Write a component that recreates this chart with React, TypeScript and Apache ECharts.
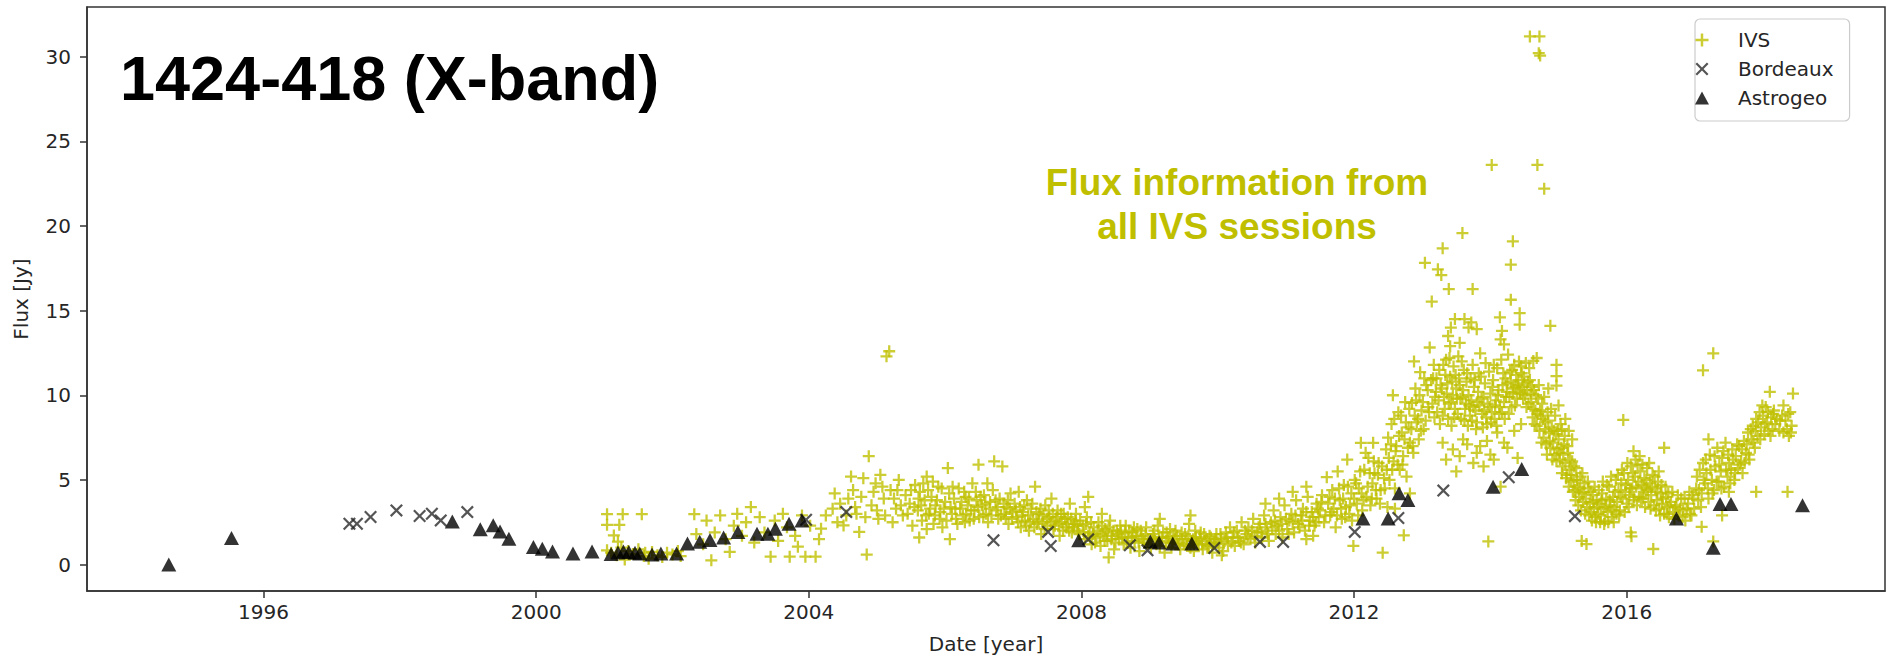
import { useEffect, useRef } from "react";
import * as echarts from "echarts";

// Axis ticks
const xTicks = [1996, 2000, 2004, 2008, 2012, 2016];
const yTicks = [0, 5, 10, 15, 20, 25, 30];

// Astrogeo measurements [year, flux Jy]
const astrogeo: number[][] = [
  [1994.61, 0.0], [1995.53, 1.57], [1998.77, 2.55], [1999.18, 2.08], [1999.37, 2.32], [1999.47, 1.96],
  [1999.6, 1.53], [1999.96, 1.04], [2000.09, 0.94], [2000.24, 0.78], [2000.54, 0.65], [2000.82, 0.78],
  [2001.1, 0.62], [2001.2, 0.72], [2001.28, 0.78], [2001.36, 0.75], [2001.45, 0.7], [2001.52, 0.65],
  [2001.7, 0.6], [2001.83, 0.65], [2002.06, 0.65], [2002.22, 1.24], [2002.4, 1.35], [2002.55, 1.45],
  [2002.75, 1.6], [2002.96, 1.93], [2003.24, 1.82], [2003.4, 1.82], [2003.51, 2.12], [2003.71, 2.41],
  [2003.9, 2.6], [2007.96, 1.43], [2009.01, 1.37], [2009.14, 1.3], [2009.34, 1.25], [2009.62, 1.25],
  [2012.13, 2.72], [2012.5, 2.72], [2012.66, 4.21], [2012.79, 3.81], [2014.04, 4.59], [2014.46, 5.65],
  [2016.73, 2.72], [2017.27, 1.0], [2017.37, 3.58], [2017.53, 3.58], [2018.58, 3.5],
];

// Bordeaux measurements [year, flux Jy]
const bordeaux: number[][] = [
  [1997.26, 2.41], [1997.37, 2.41], [1997.57, 2.81], [1997.95, 3.2], [1998.29, 2.87], [1998.47, 3.0],
  [1998.6, 2.61], [1998.99, 3.1], [2003.96, 2.65], [2004.55, 3.1], [2006.71, 1.43], [2007.51, 1.93],
  [2007.55, 1.1], [2008.1, 1.49], [2008.71, 1.14], [2008.97, 0.84], [2009.95, 0.98], [2010.62, 1.34],
  [2010.96, 1.34], [2012.01, 1.93], [2012.65, 2.75], [2013.31, 4.37], [2014.27, 5.16], [2015.24, 2.86],
];

// IVS session fluxes, 2001 - mid 2005
const ivsEarly: number[][] = [
  [2001.04, 2.98], [2001.27, 2.98], [2001.55, 2.98], [2001.04, 2.35], [2001.22, 2.35], [2001.14, 1.72],
  [2001.2, 1.35], [2001.04, 0.84], [2001.1, 0.7], [2001.18, 0.55], [2001.3, 0.3], [2001.35, 0.8],
  [2001.42, 0.62], [2001.5, 0.9], [2001.58, 0.5], [2001.65, 0.35], [2001.7, 0.75], [2001.78, 0.55],
  [2001.85, 0.45], [2001.92, 0.7], [2002.0, 0.6], [2002.08, 0.8], [2002.12, 0.5], [2001.25, 1.0],
  [2001.6, 0.7], [2002.32, 2.98], [2002.35, 1.8], [2002.45, 1.2], [2002.5, 2.6], [2002.57, 0.25],
  [2002.62, 1.9], [2002.7, 2.9], [2002.78, 1.5], [2002.84, 0.75], [2002.9, 2.3], [2002.95, 3.0],
  [2003.02, 1.7], [2003.08, 2.5], [2003.15, 3.4], [2003.2, 1.3], [2003.28, 2.8], [2003.35, 1.9],
  [2003.44, 0.47], [2003.5, 2.6], [2003.55, 1.4], [2003.62, 3.0], [2003.68, 2.2], [2003.72, 0.47],
  [2003.8, 1.7], [2003.84, 1.06], [2003.9, 2.9], [2003.95, 0.47], [2004.02, 2.3], [2004.1, 0.47],
  [2004.15, 1.5], [2004.18, 2.12], [2004.25, 2.9], [2004.35, 3.3], [2004.42, 2.5], [2004.51, 2.31],
  [2004.58, 3.9], [2004.65, 4.4], [2004.7, 3.0], [2004.74, 1.93], [2004.8, 5.1], [2004.85, 0.59],
  [2004.88, 6.4], [2004.92, 3.5], [2004.98, 4.8], [2005.02, 2.7], [2005.05, 5.3], [2005.1, 3.9],
  [2005.14, 12.3], [2005.18, 12.6], [2005.2, 4.4], [2005.23, 2.5], [2005.28, 3.3], [2005.32, 5.0],
  [2005.38, 2.9], [2005.42, 4.1], [2005.48, 3.6], [2005.52, 2.3], [2005.56, 4.7],
  [2004.38, 4.2], [2004.46, 3.6], [2004.55, 2.9], [2004.62, 5.2], [2004.68, 3.4], [2004.77, 4.0],
  [2004.83, 2.8], [2004.95, 4.3], [2005.0, 3.2], [2005.08, 4.6], [2005.12, 2.9], [2005.25, 3.9],
  [2005.3, 4.4], [2005.35, 3.5], [2005.45, 3.0], [2005.5, 4.4], [2005.55, 3.4],
];

// IVS session fluxes, mid 2005 - 2008 plateau
const ivsPlateau: number[][] = [
  [2005.6, 3.2], [2005.63, 4.3], [2005.66, 2.6], [2005.7, 3.8], [2005.73, 5.2], [2005.76, 3.0],
  [2005.8, 4.0], [2005.83, 2.4], [2005.86, 3.5], [2005.9, 4.6], [2005.93, 3.1], [2005.96, 2.2],
  [2006.0, 3.7], [2006.04, 5.7], [2006.06, 4.2], [2005.62, 1.6], [2005.73, 2.1], [2006.07, 1.5],
  [2006.29, 2.5], [2006.1, 3.0], [2006.13, 3.9], [2006.16, 2.7], [2006.2, 4.5], [2006.22, 3.3],
  [2006.26, 2.9], [2006.3, 4.0], [2006.33, 3.5], [2006.36, 2.6], [2006.4, 4.8], [2006.43, 3.2],
  [2006.46, 3.8], [2006.49, 5.9], [2006.5, 2.8], [2006.54, 3.5], [2006.57, 4.1], [2006.6, 3.0],
  [2006.63, 2.5], [2006.66, 3.7], [2006.7, 4.4], [2006.72, 6.1], [2006.75, 3.2], [2006.78, 2.7],
  [2006.8, 3.9], [2006.84, 5.8], [2006.87, 3.0], [2006.9, 3.4], [2006.93, 2.4], [2006.96, 4.2],
  [2006.99, 3.1], [2007.02, 3.6], [2007.05, 2.8], [2007.08, 4.3], [2007.11, 2.2], [2007.14, 3.1],
  [2007.17, 2.6], [2007.2, 3.8], [2007.23, 2.0], [2007.26, 3.3], [2007.29, 2.7], [2007.32, 4.6],
  [2007.35, 2.4], [2007.38, 3.0], [2007.41, 1.8], [2007.44, 2.9], [2007.47, 3.5], [2007.5, 2.3],
  [2007.53, 2.8], [2007.56, 3.9], [2007.59, 2.1], [2007.62, 2.6], [2007.65, 3.2], [2007.68, 1.7],
  [2007.71, 2.5], [2007.74, 3.0], [2007.77, 2.2], [2007.8, 2.8], [2007.83, 3.6], [2007.86, 1.9],
  [2007.89, 2.4], [2007.92, 3.0], [2007.95, 2.0], [2007.98, 2.6],
  [2005.61, 3.9], [2005.65, 3.5], [2005.68, 4.8], [2005.72, 2.9], [2005.75, 4.4], [2005.78, 3.3],
  [2005.82, 4.9], [2005.85, 2.9], [2005.88, 3.8], [2005.92, 2.7], [2005.95, 4.5], [2005.98, 3.3],
  [2006.02, 2.6], [2006.08, 3.4], [2006.11, 4.6], [2006.15, 3.3], [2006.18, 2.4], [2006.24, 3.7],
  [2006.28, 4.3], [2006.31, 3.0], [2006.35, 3.9], [2006.38, 3.2], [2006.42, 2.7], [2006.45, 4.3],
  [2006.48, 3.4], [2006.52, 4.0], [2006.56, 2.9], [2006.59, 3.6], [2006.62, 4.8], [2006.65, 3.3],
  [2006.68, 2.9], [2006.74, 3.8], [2006.77, 3.4], [2006.82, 2.9], [2006.86, 3.6], [2006.89, 2.8],
  [2006.92, 3.8], [2006.95, 3.3], [2006.98, 2.7], [2007.04, 3.2], [2007.07, 2.5], [2007.1, 3.4],
  [2007.13, 2.9], [2007.16, 3.5], [2007.19, 2.3], [2007.22, 2.9], [2007.25, 2.5], [2007.28, 3.6],
  [2007.31, 2.2], [2007.34, 3.1], [2007.37, 2.6], [2007.4, 3.3], [2007.43, 2.5], [2007.46, 2.1],
  [2007.49, 2.7], [2007.52, 3.2], [2007.55, 2.5], [2007.58, 3.0], [2007.61, 2.3], [2007.64, 2.8],
  [2007.67, 2.4], [2007.7, 3.0], [2007.73, 2.0], [2007.76, 2.7], [2007.79, 2.4], [2007.82, 2.0],
  [2007.85, 2.7], [2007.88, 2.2], [2007.91, 2.6], [2007.94, 2.3], [2007.97, 1.8],
];

// IVS session fluxes, 2008 - mid 2011 minimum
const ivsMinimum: number[][] = [
  [2008.02, 2.3], [2008.05, 1.5], [2008.08, 2.8], [2008.12, 1.9], [2008.15, 1.2], [2008.18, 2.2],
  [2008.22, 1.6], [2008.25, 2.5], [2008.28, 1.1], [2008.32, 1.8], [2008.35, 2.1], [2008.38, 1.4],
  [2008.42, 2.6], [2008.45, 1.7], [2008.48, 0.9], [2008.52, 2.0], [2008.55, 1.5], [2008.58, 1.9],
  [2008.62, 1.2], [2008.65, 2.3], [2008.68, 1.6], [2008.72, 1.0], [2008.75, 1.9], [2008.78, 1.4],
  [2008.82, 2.1], [2008.85, 0.8], [2008.88, 1.7], [2008.92, 1.3], [2008.95, 2.2], [2008.98, 1.5],
  [2008.05, 3.4], [2008.1, 4.0], [2008.3, 3.0], [2008.4, 0.42], [2009.15, 2.7], [2009.6, 2.9],
  [2009.02, 1.0], [2009.05, 1.8], [2009.08, 1.4], [2009.12, 2.3], [2009.15, 1.1], [2009.18, 1.6],
  [2009.22, 0.7], [2009.25, 1.9], [2009.28, 1.3], [2009.32, 1.0], [2009.35, 1.7], [2009.38, 2.0],
  [2009.42, 1.2], [2009.45, 0.9], [2009.48, 1.5], [2009.52, 1.8], [2009.55, 1.1], [2009.58, 2.4],
  [2009.62, 1.4], [2009.65, 0.8], [2009.68, 1.6], [2009.72, 1.2], [2009.75, 1.9], [2009.78, 0.9],
  [2009.82, 1.4], [2009.85, 1.1], [2009.88, 1.7], [2009.92, 0.7], [2009.95, 1.3], [2009.98, 1.8],
  [2010.02, 1.0], [2010.05, 1.5], [2010.06, 0.55], [2010.08, 0.8], [2010.12, 1.9], [2010.15, 1.2],
  [2010.18, 2.2], [2010.22, 1.6], [2010.25, 1.1], [2010.28, 2.0], [2010.32, 1.4], [2010.35, 2.5],
  [2010.38, 1.2], [2010.42, 1.8], [2010.45, 2.2], [2010.48, 1.5], [2010.52, 2.7], [2010.55, 1.3],
  [2010.58, 1.9], [2010.62, 2.4], [2010.65, 1.6], [2010.68, 2.9], [2010.72, 2.0], [2010.75, 1.4],
  [2010.78, 2.5], [2010.82, 3.2], [2010.85, 1.8], [2010.88, 2.3], [2010.92, 2.8], [2010.95, 1.6],
  [2010.98, 3.5], [2011.02, 2.1], [2011.05, 2.6], [2011.08, 3.0], [2011.12, 1.9], [2011.15, 3.8],
  [2011.18, 2.4], [2011.22, 2.9], [2011.25, 3.3], [2011.28, 2.0], [2011.3, 1.5], [2011.32, 4.0],
  [2011.35, 2.6], [2011.38, 3.1], [2011.4, 1.7], [2011.42, 2.3], [2011.45, 3.6], [2011.48, 2.8],
  [2008.04, 1.9], [2008.07, 2.4], [2008.1, 1.7], [2008.14, 2.5], [2008.17, 1.8], [2008.2, 1.3],
  [2008.24, 2.0], [2008.27, 1.7], [2008.3, 2.3], [2008.34, 1.4], [2008.37, 1.9], [2008.4, 2.2],
  [2008.44, 1.5], [2008.47, 2.0], [2008.5, 1.3], [2008.54, 1.8], [2008.57, 2.3], [2008.6, 1.6],
  [2008.64, 1.9], [2008.67, 1.3], [2008.7, 2.0], [2008.74, 1.6], [2008.77, 2.2], [2008.8, 1.7],
  [2008.84, 1.3], [2008.87, 2.0], [2008.9, 1.5], [2008.94, 1.8], [2008.97, 1.2], [2009.03, 1.5],
  [2009.07, 2.0], [2009.1, 1.2], [2009.14, 1.6], [2009.2, 1.9], [2009.24, 1.4], [2009.27, 1.6],
  [2009.3, 2.1], [2009.34, 1.3], [2009.37, 1.5], [2009.4, 1.7], [2009.44, 1.3], [2009.47, 1.9],
  [2009.5, 1.2], [2009.54, 1.5], [2009.57, 1.7], [2009.6, 1.0], [2009.64, 1.5], [2009.67, 2.0],
  [2009.7, 1.3], [2009.74, 1.6], [2009.77, 1.2], [2009.8, 1.8], [2009.84, 1.5], [2009.87, 1.0],
  [2009.9, 1.6], [2009.94, 1.2], [2009.97, 1.5], [2010.0, 1.3], [2010.04, 1.8], [2010.1, 1.4],
  [2010.14, 1.6], [2010.2, 1.3], [2010.24, 1.9], [2010.3, 1.6], [2010.34, 1.3], [2010.4, 2.0],
  [2010.44, 1.6], [2010.5, 2.0], [2010.54, 1.7], [2010.6, 2.2], [2010.64, 1.9], [2010.7, 2.4],
  [2010.74, 1.8], [2010.8, 2.2], [2010.84, 2.6], [2010.9, 2.0], [2010.94, 2.4], [2011.0, 2.7],
  [2011.04, 1.8], [2011.1, 2.5], [2011.14, 2.9], [2011.2, 2.2], [2011.24, 2.6], [2011.3, 3.1],
  [2011.34, 2.3], [2011.4, 2.8], [2011.44, 2.5], [2011.47, 3.3], [2010.9, 3.9], [2011.1, 4.3],
  [2011.3, 4.6], [2010.7, 3.6],
];

// IVS session fluxes, 2011.5 - 2015.6 flare
const ivsFlare: number[][] = [
  [2011.5, 3.2], [2011.53, 4.1], [2011.56, 2.5], [2011.6, 5.16], [2011.62, 3.6], [2011.65, 2.9],
  [2011.68, 4.4], [2011.7, 3.3], [2011.73, 2.2], [2011.76, 5.5], [2011.79, 3.8], [2011.82, 2.7],
  [2011.85, 4.7], [2011.88, 3.4], [2011.9, 6.2], [2011.93, 3.0], [2011.96, 4.2], [2011.99, 1.1],
  [2012.01, 5.0], [2012.04, 3.6], [2012.07, 4.5], [2012.1, 7.19], [2012.12, 3.2], [2012.15, 5.6],
  [2012.18, 4.0], [2012.21, 6.3], [2012.24, 3.5], [2012.27, 4.8], [2012.28, 7.19], [2012.3, 5.4],
  [2012.33, 3.9], [2012.36, 6.0], [2012.39, 4.4], [2012.42, 0.7], [2012.44, 5.1], [2012.47, 6.8],
  [2012.49, 3.4], [2012.73, 1.73], [2012.5, 7.5], [2012.52, 5.0], [2012.55, 8.3], [2012.58, 6.1],
  [2012.6, 4.5], [2012.62, 7.0], [2012.65, 9.0], [2012.67, 5.6], [2012.7, 7.8], [2012.72, 6.4],
  [2012.75, 9.6], [2012.77, 5.2], [2012.8, 8.1], [2012.82, 7.2], [2012.85, 9.55], [2012.87, 6.6],
  [2012.9, 10.4], [2012.92, 8.4], [2012.95, 7.4], [2012.97, 11.36], [2012.99, 9.1], [2013.02, 8.0],
  [2013.04, 17.82], [2013.06, 10.6], [2013.09, 9.3], [2013.11, 12.82], [2013.14, 15.53], [2013.16, 11.0],
  [2013.18, 8.7], [2012.57, 10.0], [2012.88, 12.0], [2012.6, 3.3], [2012.82, 4.2],
  [2013.23, 17.44], [2013.28, 17.1], [2013.3, 18.68], [2013.39, 16.27], [2013.59, 19.58], [2013.74, 16.27],
  [2014.02, 23.6], [2014.33, 19.09], [2014.3, 17.71], [2014.3, 15.64], [2014.43, 14.85], [2014.43, 14.17],
  [2013.48, 14.5], [2013.62, 14.5], [2013.72, 14.3], [2013.68, 14.0], [2013.8, 13.9], [2013.42, 14.0],
  [2013.38, 13.5], [2014.14, 14.6], [2014.17, 13.8], [2014.2, 13.0], [2014.15, 13.3], [2013.41, 12.9],
  [2013.55, 13.1], [2013.85, 12.48], [2014.63, 12.03], [2014.68, 12.2],
  [2013.2, 10.2], [2013.22, 9.0], [2013.25, 11.5], [2013.27, 10.6], [2013.3, 8.8], [2013.32, 9.9],
  [2013.34, 11.2], [2013.36, 10.1], [2013.38, 8.6], [2013.4, 12.2], [2013.42, 9.6], [2013.44, 10.8],
  [2013.46, 11.7], [2013.48, 9.2], [2013.5, 10.4], [2013.52, 8.9], [2013.54, 11.0], [2013.56, 9.8],
  [2013.58, 12.0], [2013.6, 10.3], [2013.62, 8.5], [2013.64, 9.5], [2013.66, 11.3], [2013.68, 10.0],
  [2013.7, 8.8], [2013.72, 9.7], [2013.74, 11.8], [2013.76, 10.5], [2013.78, 9.1], [2013.8, 8.4],
  [2013.82, 10.2], [2013.84, 9.4], [2013.86, 11.1], [2013.88, 8.9], [2013.9, 9.9], [2013.92, 10.7],
  [2013.94, 8.7], [2013.96, 9.5], [2013.98, 11.4], [2014.0, 10.1], [2014.02, 9.0], [2014.04, 10.9],
  [2014.06, 8.6], [2014.08, 9.7], [2014.1, 11.6], [2014.12, 10.3], [2014.14, 9.3], [2014.16, 12.1],
  [2014.18, 10.6], [2014.2, 9.6], [2014.22, 11.0], [2014.24, 10.2], [2014.26, 12.4], [2014.28, 9.9],
  [2014.3, 10.8], [2014.32, 11.5], [2014.34, 10.4], [2014.36, 9.4], [2014.38, 11.2], [2014.4, 10.6],
  [2014.42, 12.0], [2014.44, 10.1], [2014.46, 11.3], [2014.48, 9.8], [2014.5, 10.7], [2014.52, 11.9],
  [2014.54, 10.3], [2014.56, 9.5], [2014.58, 10.9],
  [2013.3, 7.2], [2013.45, 6.8], [2013.6, 7.4], [2013.75, 6.0], [2013.85, 7.0], [2013.97, 1.37],
  [2013.9, 5.8], [2014.0, 6.5], [2014.1, 7.8], [2013.5, 5.5], [2014.25, 6.9],
  [2014.58, 31.19], [2014.72, 31.19], [2014.73, 30.06], [2014.71, 30.2], [2014.69, 23.6], [2014.79, 22.2],
  [2014.6, 9.6], [2014.62, 8.7], [2014.64, 10.3], [2014.66, 9.1], [2014.68, 8.2], [2014.7, 9.8],
  [2014.72, 7.9], [2014.74, 8.8], [2014.76, 9.5], [2014.78, 7.5], [2014.8, 8.4], [2014.82, 7.1],
  [2014.84, 9.0], [2014.86, 7.8], [2014.88, 14.1], [2014.88, 6.9], [2014.9, 8.1], [2014.92, 7.2],
  [2014.94, 6.5], [2014.96, 7.7], [2014.97, 11.8], [2014.97, 11.13], [2014.97, 10.57], [2014.98, 6.8],
  [2015.0, 7.4], [2015.02, 6.2], [2015.04, 6.9], [2015.06, 5.8], [2015.08, 7.1], [2015.1, 6.0],
  [2015.12, 5.3], [2015.14, 6.6], [2015.16, 5.6], [2015.18, 4.9], [2015.2, 6.1], [2015.22, 5.0],
  [2015.24, 4.4], [2015.26, 5.7], [2015.28, 4.6], [2015.3, 4.0], [2015.32, 5.2], [2015.34, 4.2],
  [2015.34, 1.4], [2015.36, 3.7], [2015.38, 4.8], [2015.4, 3.9], [2015.41, 1.21], [2015.42, 3.4],
  [2015.44, 4.5], [2015.46, 3.6], [2015.48, 3.1], [2015.5, 4.1], [2015.52, 3.3], [2015.54, 2.8],
  [2015.56, 3.8], [2015.58, 3.0], [2015.0, 9.4], [2015.1, 8.6], [2015.15, 7.9], [2015.2, 7.4],
  [2014.85, 10.4], [2015.05, 8.0],
  [2011.52, 3.7], [2011.58, 2.9], [2011.64, 4.0], [2011.67, 3.1], [2011.72, 3.9], [2011.75, 2.9],
  [2011.78, 4.5], [2011.81, 3.3], [2011.84, 3.9], [2011.87, 2.8], [2011.91, 4.6], [2011.94, 3.5],
  [2011.97, 2.6], [2012.0, 3.9], [2012.03, 4.8], [2012.06, 2.9], [2012.09, 5.5], [2012.11, 4.2],
  [2012.14, 3.8], [2012.17, 6.6], [2012.2, 4.6], [2012.23, 5.4], [2012.26, 3.9], [2012.29, 6.1],
  [2012.32, 4.4], [2012.35, 5.3], [2012.38, 3.6], [2012.41, 5.8], [2012.45, 4.5], [2012.48, 5.6],
  [2012.51, 6.3], [2012.54, 7.1], [2012.56, 5.6], [2012.59, 8.6], [2012.61, 6.7], [2012.64, 5.9],
  [2012.66, 7.6], [2012.69, 8.8], [2012.71, 5.9], [2012.74, 7.4], [2012.76, 8.4], [2012.79, 6.9],
  [2012.81, 9.2], [2012.84, 8.0], [2012.86, 7.0], [2012.89, 8.8], [2012.91, 9.7], [2012.94, 8.6],
  [2012.96, 10.0], [2012.98, 7.9], [2013.01, 9.6], [2013.03, 11.0], [2013.05, 8.5], [2013.08, 10.3],
  [2013.1, 9.0], [2013.13, 10.9], [2013.15, 9.5], [2013.17, 11.8], [2013.19, 9.9],
  [2013.21, 11.0], [2013.24, 9.7], [2013.26, 8.3], [2013.29, 10.4], [2013.31, 11.8], [2013.33, 9.2],
  [2013.35, 12.1], [2013.37, 10.7], [2013.39, 9.5], [2013.41, 11.1], [2013.43, 8.2], [2013.45, 10.0],
  [2013.47, 8.7], [2013.49, 11.2], [2013.51, 9.8], [2013.53, 12.3], [2013.55, 10.6], [2013.57, 8.6],
  [2013.59, 9.9], [2013.61, 11.5], [2013.63, 9.2], [2013.65, 10.8], [2013.67, 8.2], [2013.69, 9.4],
  [2013.71, 11.0], [2013.73, 8.5], [2013.75, 9.3], [2013.77, 10.9], [2013.79, 8.0], [2013.81, 9.6],
  [2013.83, 11.3], [2013.87, 9.8], [2013.89, 8.1], [2013.91, 9.1], [2013.93, 11.9], [2013.95, 8.3],
  [2013.99, 9.3], [2014.01, 8.4], [2014.03, 10.5], [2014.05, 11.8], [2014.07, 9.4], [2014.09, 8.2],
  [2014.11, 10.0], [2014.13, 8.9], [2014.17, 9.0], [2014.19, 11.3], [2014.21, 8.6], [2014.23, 9.9],
  [2014.25, 10.7], [2014.27, 8.9], [2014.29, 11.4], [2014.31, 9.3], [2014.33, 10.1], [2014.35, 11.8],
  [2014.37, 10.5], [2014.39, 9.8], [2014.41, 10.9], [2014.43, 10.2], [2014.45, 11.7], [2014.47, 10.5],
  [2014.49, 11.1], [2014.51, 10.0], [2014.53, 9.3], [2014.55, 10.8], [2014.57, 11.6], [2014.59, 10.1],
  [2013.66, 7.1], [2013.8, 6.6], [2013.95, 7.3], [2014.05, 6.2], [2014.2, 7.2], [2014.35, 7.9],
  [2014.45, 8.3], [2013.55, 6.4], [2013.35, 6.2], [2014.15, 4.6], [2014.4, 6.3],
  [2014.61, 10.5], [2014.63, 9.2], [2014.65, 8.3], [2014.67, 10.0], [2014.69, 8.9], [2014.71, 10.6],
  [2014.73, 9.1], [2014.75, 7.2], [2014.77, 8.6], [2014.79, 9.9], [2014.81, 8.0], [2014.83, 6.5],
  [2014.85, 8.5], [2014.87, 7.3], [2014.89, 9.2], [2014.91, 6.2], [2014.93, 7.9], [2014.95, 8.8],
  [2014.97, 6.1], [2014.99, 7.9], [2015.01, 6.6], [2015.03, 8.3], [2015.05, 5.4], [2015.07, 6.5],
  [2015.09, 7.6], [2015.11, 5.1], [2015.13, 7.0], [2015.15, 4.6], [2015.17, 6.2], [2015.19, 5.3],
  [2015.21, 4.3], [2015.23, 5.8], [2015.25, 3.8], [2015.27, 5.0], [2015.29, 3.5], [2015.31, 4.5],
  [2015.33, 3.2], [2015.35, 5.4], [2015.37, 4.3], [2015.39, 3.0], [2015.43, 4.9], [2015.45, 2.9],
  [2015.47, 4.3], [2015.49, 2.6], [2015.51, 3.7], [2015.53, 4.6], [2015.55, 2.5], [2015.57, 3.4],
  [2015.59, 4.4],
];

// IVS session fluxes, 2015.6 - 2018.5
const ivsLate: number[][] = [
  [2015.6, 3.6], [2015.62, 2.9], [2015.64, 4.2], [2015.66, 3.3], [2015.68, 2.6], [2015.7, 3.9],
  [2015.72, 3.1], [2015.74, 4.6], [2015.76, 3.5], [2015.78, 2.8], [2015.8, 4.0], [2015.82, 3.4],
  [2015.84, 5.0], [2015.86, 3.7], [2015.88, 4.4], [2015.9, 3.2], [2015.92, 4.8], [2015.95, 8.54],
  [2015.94, 3.9], [2015.96, 5.4], [2015.98, 4.3], [2016.0, 3.6], [2016.02, 5.0], [2016.04, 4.1],
  [2016.06, 5.8], [2016.06, 1.9], [2016.07, 1.67], [2016.08, 4.5], [2016.1, 6.7], [2016.1, 3.8],
  [2016.12, 5.2], [2016.14, 4.6], [2016.16, 5.9], [2016.18, 4.0], [2016.2, 5.5], [2016.22, 4.7],
  [2016.24, 3.9], [2016.26, 5.1], [2016.28, 4.3], [2016.3, 5.7], [2016.32, 3.7], [2016.34, 4.8],
  [2016.36, 4.1], [2016.38, 5.3], [2016.39, 0.92], [2016.4, 3.5], [2016.42, 4.5], [2016.44, 3.8],
  [2016.46, 4.9], [2016.48, 3.3], [2016.5, 4.2], [2016.52, 3.6], [2016.55, 6.9], [2016.55, 3.0],
  [2016.58, 4.0], [2016.6, 3.4], [2016.62, 2.8], [2016.65, 3.7], [2016.68, 3.1], [2016.7, 2.7],
  [2016.73, 3.5], [2016.76, 2.9], [2016.8, 3.9], [2016.83, 3.2], [2016.86, 2.6], [2016.9, 3.6],
  [2016.93, 3.0], [2016.96, 4.1], [2016.99, 3.3],
  [2017.02, 4.5], [2017.05, 3.8], [2017.07, 5.6], [2017.1, 2.23], [2017.1, 4.2], [2017.12, 11.47],
  [2017.12, 6.0], [2017.15, 4.8], [2017.17, 5.4], [2017.2, 3.9], [2017.22, 6.5], [2017.25, 5.0],
  [2017.27, 12.48], [2017.27, 1.37], [2017.28, 4.4], [2017.3, 5.8], [2017.33, 6.9], [2017.35, 4.9],
  [2017.38, 5.5], [2017.4, 6.3], [2017.43, 4.6], [2017.45, 7.2], [2017.48, 5.2], [2017.5, 6.0],
  [2017.53, 5.6], [2017.55, 6.8], [2017.58, 5.0], [2017.6, 6.4], [2017.63, 5.7], [2017.65, 7.0],
  [2017.68, 6.1], [2017.7, 5.4], [2017.72, 7.3], [2017.75, 6.6], [2017.78, 7.8], [2017.8, 6.2],
  [2017.83, 7.4], [2017.85, 8.2], [2017.88, 6.9], [2017.9, 8.6], [2017.92, 7.6], [2017.95, 9.0],
  [2017.97, 8.1], [2018.0, 8.8], [2018.02, 7.7], [2018.04, 9.3], [2018.06, 8.4], [2018.08, 7.9],
  [2018.1, 10.2], [2018.12, 8.7], [2018.14, 8.0], [2018.16, 9.1], [2018.18, 8.3], [2017.2, 7.4],
  [2017.5, 4.3], [2017.9, 4.3], [2017.4, 2.9], [2018.25, 8.5], [2018.3, 9.4], [2018.35, 8.0],
  [2018.4, 9.0], [2018.44, 10.1], [2018.42, 8.2], [2018.38, 7.6], [2018.3, 7.8], [2018.36, 4.3],
  [2015.61, 2.5], [2015.63, 3.8], [2015.65, 4.9], [2015.67, 2.4], [2015.69, 3.4], [2015.71, 4.7],
  [2015.73, 2.5], [2015.75, 3.8], [2015.77, 5.2], [2015.79, 3.2], [2015.81, 2.5], [2015.83, 4.3],
  [2015.85, 3.0], [2015.87, 5.3], [2015.89, 2.9], [2015.91, 4.0], [2015.93, 5.6], [2015.97, 3.1],
  [2015.99, 4.7], [2016.01, 6.0], [2016.03, 3.4], [2016.05, 4.5], [2016.09, 5.4], [2016.11, 4.0],
  [2016.13, 6.2], [2016.15, 3.5], [2016.17, 4.9], [2016.19, 6.4], [2016.21, 3.9], [2016.23, 5.9],
  [2016.25, 4.5], [2016.27, 3.4], [2016.29, 5.0], [2016.31, 4.4], [2016.33, 6.0], [2016.35, 3.3],
  [2016.37, 4.6], [2016.41, 5.2], [2016.43, 3.2], [2016.45, 4.3], [2016.47, 5.5], [2016.49, 2.9],
  [2016.51, 4.7], [2016.53, 3.9], [2016.57, 4.6], [2016.59, 3.0], [2016.61, 4.2], [2016.63, 3.5],
  [2016.67, 4.3], [2016.71, 3.4], [2016.75, 4.1], [2016.78, 3.3], [2016.82, 2.8], [2016.85, 3.9],
  [2016.88, 3.3], [2016.92, 4.3], [2016.95, 2.9], [2016.98, 3.9],
  [2017.03, 5.2], [2017.06, 4.4], [2017.09, 3.4], [2017.13, 5.0], [2017.16, 6.2], [2017.19, 4.5],
  [2017.23, 5.6], [2017.26, 4.2], [2017.29, 6.4], [2017.32, 4.9], [2017.36, 5.9], [2017.39, 4.5],
  [2017.42, 6.7], [2017.46, 5.6], [2017.49, 6.5], [2017.52, 4.8], [2017.56, 6.2], [2017.59, 5.4],
  [2017.62, 7.1], [2017.66, 5.9], [2017.69, 6.8], [2017.73, 6.0], [2017.76, 7.1], [2017.79, 6.5],
  [2017.82, 8.0], [2017.86, 7.2], [2017.89, 7.9], [2017.93, 8.4], [2017.96, 7.4], [2017.99, 9.4],
  [2018.03, 8.3], [2018.07, 9.0], [2018.11, 7.6], [2018.15, 8.9], [2018.2, 8.6], [2018.24, 7.9],
  [2018.28, 8.8], [2018.33, 8.5], [2018.37, 8.9], [2018.41, 7.8],
];

const ivs = [...ivsEarly, ...ivsPlateau, ...ivsMinimum, ...ivsFlare, ...ivsLate];

// Marker shapes
const PLUS = "path://M4.05,0H5.95V4.05H10V5.95H5.95V10H4.05V5.95H0V4.05H4.05Z";
const CROSS =
  "path://M0,1.2L1.2,0L5,3.8L8.8,0L10,1.2L6.2,5L10,8.8L8.8,10L5,6.2L1.2,10L0,8.8L3.8,5Z";
const TRI = "path://M5,0L10,9.3L0,9.3Z";

const OLIVE = "#bfbf00";
const AXIS = "#333333";
const TEXT = "#262626";
const SANS = "DejaVu Sans";

export default function App() {
  const ref = useRef<HTMLDivElement>(null);

  useEffect(() => {
    if (!ref.current) return;
    const chart = echarts.init(ref.current, undefined, { renderer: "svg" });
    chart.setOption({
      animation: false,
      backgroundColor: "#ffffff",
      title: {
        text: "1424-418 (X-band)",
        left: 120,
        top: 46,
        padding: 0,
        textStyle: {
          fontFamily: "Liberation Sans",
          fontSize: 63,
          fontWeight: "bold",
          color: "#000000",
          lineHeight: 63,
        },
      },
      legend: {
        orient: "vertical",
        left: 1695,
        top: 19,
        itemWidth: 62,
        itemHeight: 13,
        itemGap: 9,
        padding: [11, 16, 13, 0],
        backgroundColor: "#ffffff",
        borderColor: "#cccccc",
        borderWidth: 1.2,
        borderRadius: 5,
        symbolKeepAspect: true,
        textStyle: { fontFamily: SANS, fontSize: 20, color: TEXT, lineHeight: 20 },
        data: [
          { name: "IVS", icon: PLUS },
          { name: "Bordeaux", icon: CROSS },
          { name: "Astrogeo", icon: TRI },
        ],
      },
      grid: {
        left: 87,
        right: 2,
        top: 7,
        bottom: 66,
        show: true,
        borderColor: AXIS,
        borderWidth: 1.5,
        backgroundColor: "transparent",
      },
      xAxis: {
        type: "value",
        min: 1993.41,
        max: 2019.79,
        splitLine: { show: false },
        axisLine: { show: true, onZero: false, lineStyle: { color: AXIS, width: 1.5 } },
        axisTick: { show: true, length: 7, customValues: xTicks, lineStyle: { color: AXIS, width: 1.5 } },
        axisLabel: {
          customValues: xTicks,
          margin: 11,
          fontFamily: SANS,
          fontSize: 20,
          color: TEXT,
          formatter: (v: number) => String(Math.round(v)),
        },
        name: "Date [year]",
        nameLocation: "middle",
        nameGap: 43,
        nameTextStyle: { fontFamily: SANS, fontSize: 20, color: TEXT },
      },
      yAxis: {
        type: "value",
        min: -1.56,
        max: 32.93,
        splitLine: { show: false },
        axisLine: { show: true, onZero: false, lineStyle: { color: AXIS, width: 1.5 } },
        axisTick: { show: true, length: 7, customValues: yTicks, lineStyle: { color: AXIS, width: 1.5 } },
        axisLabel: {
          customValues: yTicks,
          margin: 16,
          fontFamily: SANS,
          fontSize: 20,
          color: TEXT,
          formatter: (v: number) => String(Math.round(v)),
        },
        name: "Flux [Jy]",
        nameLocation: "middle",
        nameRotate: 90,
        nameGap: 56,
        nameTextStyle: { fontFamily: SANS, fontSize: 20, color: TEXT },
      },
      graphic: [
        {
          type: "text",
          x: 1237,
          y: 160,
          silent: true,
          style: {
            text: "Flux information from\nall IVS sessions",
            fill: OLIVE,
            fontFamily: "Liberation Sans",
            fontWeight: "bold",
            fontSize: 37,
            lineHeight: 44,
            align: "center",
            verticalAlign: "top",
          },
        },
      ],
      series: [
        {
          name: "IVS",
          type: "scatter",
          data: ivs,
          symbol: PLUS,
          symbolSize: 12,
          itemStyle: { color: OLIVE },
          silent: true,
        },
        {
          name: "Bordeaux",
          type: "scatter",
          data: bordeaux,
          symbol: CROSS,
          symbolSize: 13,
          itemStyle: { color: "#2a2a2a" },
          silent: true,
        },
        {
          name: "Astrogeo",
          type: "scatter",
          data: astrogeo,
          symbol: TRI,
          symbolSize: [15, 14],
          itemStyle: { color: "#000000" },
          silent: true,
        },
      ],
    });
    return () => chart.dispose();
  }, []);

  return (
    <div
      ref={ref}
      style={{ position: "fixed", left: 0, top: 0, width: 1887, height: 659, background: "#ffffff" }}
    />
  );
}
